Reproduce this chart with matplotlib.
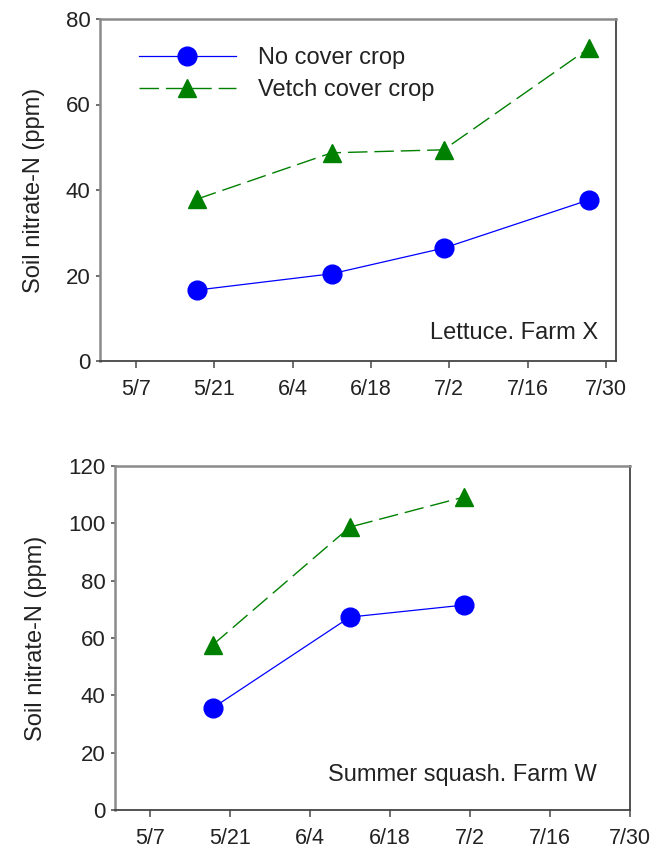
import matplotlib
matplotlib.use("Agg")
import matplotlib.pyplot as plt
from datetime import date

plt.rcParams['font.family'] = ['Liberation Sans', 'DejaVu Sans']

# ---- data ----
tick_labels = ["5/7", "5/21", "6/4", "6/18", "7/2", "7/16", "7/30"]
series_names = ["No cover crop", "Vetch cover crop"]

lettuce_dates = ["5/18", "6/11", "7/1", "7/27"]
lettuce_no_cover = [16.6, 20.4, 26.4, 37.7]
lettuce_vetch = [37.9, 48.7, 49.4, 73.2]

squash_dates = ["5/18", "6/11", "7/1"]
squash_no_cover = [35.6, 67.3, 71.5]
squash_vetch = [57.6, 98.7, 109.2]

panel_titles = ["Lettuce. Farm X", "Summer squash. Farm W"]


def doy(s):
    m, d = s.split("/")
    return date(2010, int(m), int(d)).toordinal() - date(2010, 1, 1).toordinal()


fig = plt.figure(figsize=(6.62, 8.52), dpi=100)
ax1 = fig.add_axes([100/662, 1-361/852, 516/662, 342/852])
ax2 = fig.add_axes([115/662, 1-810/852, 515/662, 344/852])

BLUE = '#0000FF'
GREEN = '#008000'
FS_TICK = 15.5
FS_TEXT = 17


def style(ax, ymax, ystep, xlo, xhi):
    ax.set_ylim(0, ymax)
    ax.set_yticks(range(0, ymax + 1, ystep))
    ax.set_xlim(xlo, xhi)
    ax.set_xticks([doy(t) for t in tick_labels])
    ax.set_xticklabels(tick_labels)
    ax.tick_params(axis='x', direction='out', length=5, width=1.2, color='#555555',
                   labelsize=FS_TICK, labelcolor='#222222', pad=8)
    ax.tick_params(axis='y', direction='out', length=3, width=1.2, color='#555555',
                   labelsize=16, labelcolor='#222222', pad=4)
    for side in ['left', 'top']:
        ax.spines[side].set_color('#8a8a8a')
        ax.spines[side].set_linewidth(1.8)
    for side in ['right', 'bottom']:
        ax.spines[side].set_color('#444444')
        ax.spines[side].set_linewidth(1.3)
    ax.set_ylabel("Soil nitrate-N (ppm)", fontsize=FS_TEXT, color='#222222', labelpad=15)


def plot_panel(ax, dates, nc, vc):
    xs = [doy(d) for d in dates]
    ax.plot(xs, nc, color=BLUE, lw=0.9, marker='o', ms=13.5, mfc=BLUE, mec=BLUE,
            label=series_names[0])
    ax.plot(xs, vc, color=GREEN, lw=1.0, dashes=(14, 5), marker='^', ms=13.5,
            mfc=GREEN, mec=GREEN, label=series_names[1])


plot_panel(ax1, lettuce_dates, lettuce_no_cover, lettuce_vetch)
style(ax1, 80, 20, doy("5/7") - 6.4, doy("7/30") + 1.8)
ax1.text(0.965, 0.082, panel_titles[0], transform=ax1.transAxes, ha='right', va='center',
         fontsize=FS_TEXT, color='#222222')
leg = ax1.legend(loc='upper left', bbox_to_anchor=(0.057, 0.946), frameon=False,
                 fontsize=FS_TEXT, handlelength=4.1, handletextpad=0.95, labelspacing=0.42,
                 borderaxespad=0)
for t in leg.get_texts():
    t.set_color('#222222')

plot_panel(ax2, squash_dates, squash_no_cover, squash_vetch)
style(ax2, 120, 20, doy("5/7") - 6.1, doy("7/30"))
ax2.text(0.936, 0.102, panel_titles[1], transform=ax2.transAxes, ha='right', va='center',
         fontsize=FS_TEXT, color='#222222')

fig.savefig("out.png", dpi=100)
